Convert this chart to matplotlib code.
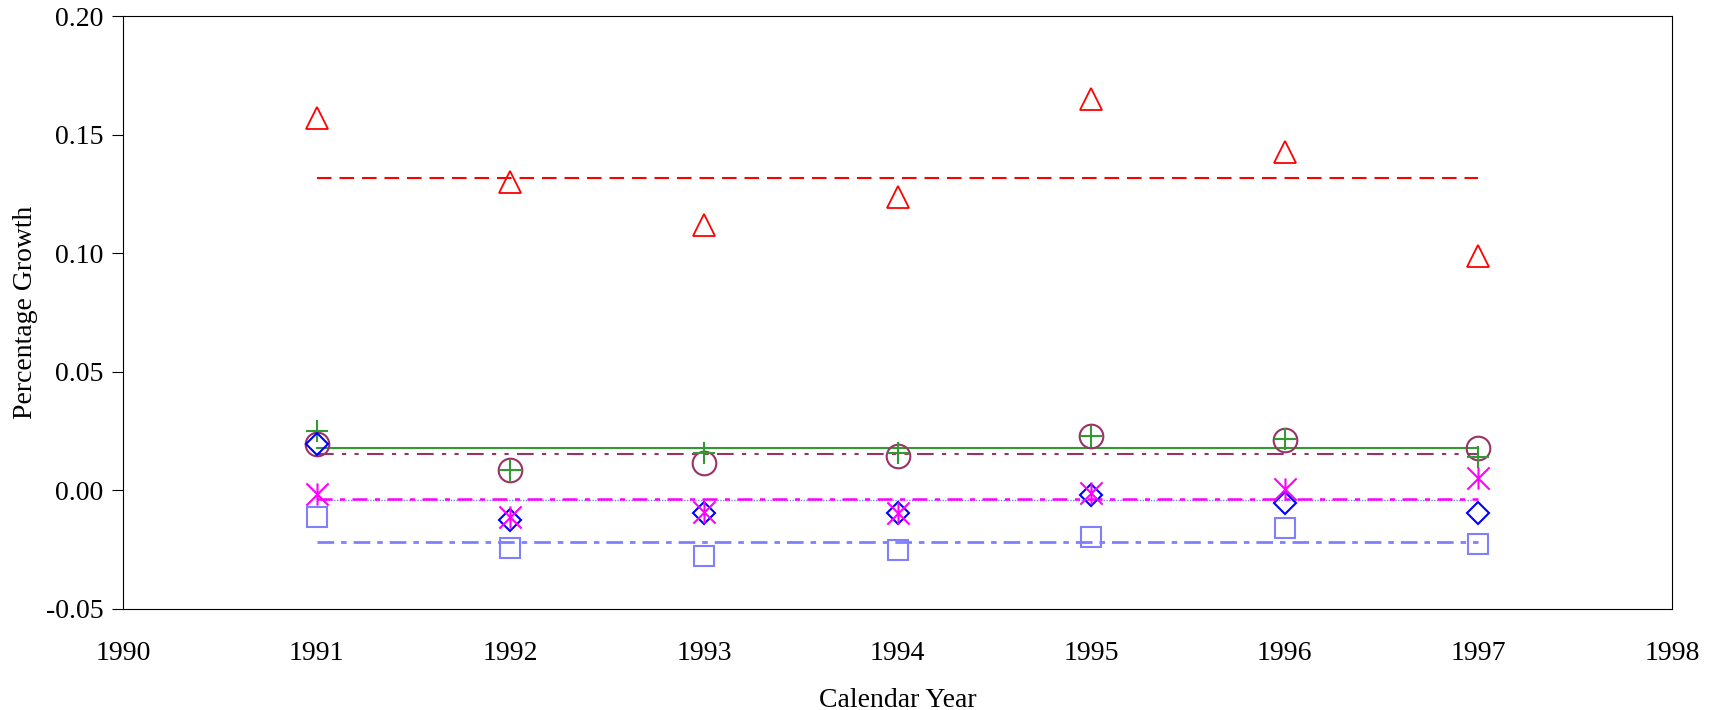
import matplotlib.pyplot as plt
from matplotlib.path import Path

plt.rcParams['font.family'] = ['Liberation Serif', 'DejaVu Serif']

years = [1991, 1992, 1993, 1994, 1995, 1996, 1997]

red_tri = [0.157, 0.130, 0.112, 0.124, 0.165, 0.143, 0.099]
green_plus = [0.025, 0.0086, 0.016, 0.0158, 0.023, 0.0216, 0.0143]
maroon_circ = [0.0195, 0.0086, 0.0115, 0.0146, 0.023, 0.0213, 0.0178]
magenta_star = [-0.0016, -0.011, -0.0089, -0.0094, -0.0012, 0.0005, 0.0051]
blue_diam = [0.0195, -0.0124, -0.0096, -0.0094, -0.0019, -0.0054, -0.0094]
lblue_sq = [-0.011, -0.0244, -0.0276, -0.0251, -0.0195, -0.016, -0.0227]

# mean lines
red_mean = 0.132
green_mean = 0.018
maroon_mean = 0.0155
magenta_mean = -0.0038
blue_mean = -0.0040
lblue_mean = -0.0216

# asterisk: vertical bar + x
star = Path([(0, -1), (0, 1), (-1, -1), (1, 1), (-1, 1), (1, -1)],
            [Path.MOVETO, Path.LINETO, Path.MOVETO, Path.LINETO, Path.MOVETO, Path.LINETO])

fig = plt.figure(figsize=(17.23, 7.10), dpi=100)
ax = fig.add_axes([0.0714, 0.1423, 0.899, 0.8345])

span = [years[0], years[-1]]
ax.plot(span, [red_mean] * 2, color='#ff0000', ls=(0, (7, 3.8)), lw=1.5)
ax.plot(span, [green_mean] * 2, color='#339933', ls='-', lw=1.5)
ax.plot(span, [maroon_mean] * 2, color='#993366', ls=(0, (8, 4, 2, 4, 2, 4)), lw=1.5)
ax.plot(span, [blue_mean] * 2, color='#8080ff', ls=(0, (1, 1)), lw=1)
ax.plot(span, [magenta_mean] * 2, color='#ff00ff', ls=(0, (6, 3, 2, 3)), lw=1.8)
ax.plot(span, [lblue_mean] * 2, color='#8080ff', ls=(0, (6, 2.5, 2, 2.5)), lw=2)

ax.plot(years, red_tri, ls='none', marker='^', ms=16, mfc='none', mec='#ff0000', mew=1.3)
ax.plot(years, maroon_circ, ls='none', marker='o', ms=17, mfc='none', mec='#993366', mew=1.5)
ax.plot(years, green_plus, ls='none', marker='+', ms=16, mec='#339933', mew=1.5)
ax.plot(years, lblue_sq, ls='none', marker='s', ms=15, mfc='none', mec='#8080ff', mew=1.5)
ax.plot(years, blue_diam, ls='none', marker='D', ms=11.5, mfc='none', mec='#0000ff', mew=1.5)
ax.plot(years, magenta_star, ls='none', marker=star, ms=16, mec='#ff00ff', mew=1.5)

ax.set_xlim(1990, 1998)
ax.set_ylim(-0.05, 0.20)
ax.set_xticks(range(1990, 1999))
ax.set_yticks([-0.05, 0.0, 0.05, 0.10, 0.15, 0.20])
ax.set_yticklabels(['-0.05', '0.00', '0.05', '0.10', '0.15', '0.20'])
ax.tick_params(axis='y', direction='out', length=8, labelsize=20, pad=6)
ax.tick_params(axis='x', length=0, labelsize=20, pad=23)
ax.set_xlabel('Calendar Year', fontsize=20, labelpad=16)
ax.set_ylabel('Percentage Growth', fontsize=20, labelpad=6)
for s in ax.spines.values():
    s.set_linewidth(0.8)

fig.savefig('out.png', dpi=100)
